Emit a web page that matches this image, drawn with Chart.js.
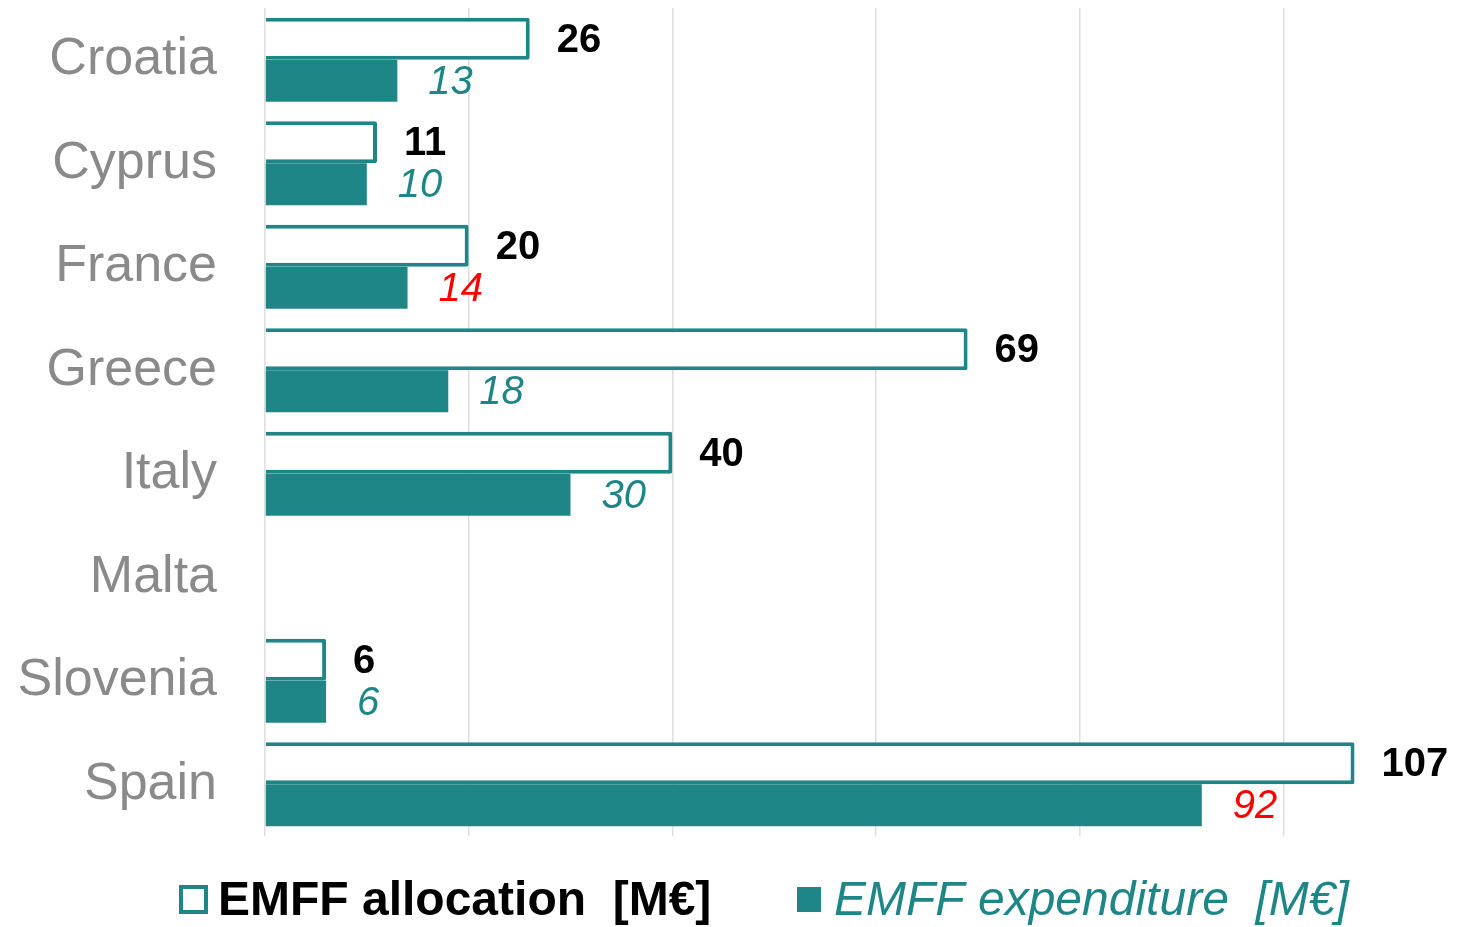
<!DOCTYPE html>
<html>
<head>
<meta charset="utf-8">
<title>EMFF allocation and expenditure</title>
<script src="https://cdn.jsdelivr.net/npm/chart.js@4"></script>
<style>
  html, body { margin: 0; padding: 0; background: #fff; }
</style>
</head>
<body>
<canvas id="bar" width="1484" height="927"></canvas>
<script>
// data (M€)
var countries = ["Croatia", "Cyprus", "France", "Greece", "Italy", "Malta", "Slovenia", "Spain"];
var allocation = [26, 11, 20, 69, 40, null, 6, 107];
var expenditure = [13, 10, 14, 18, 30, null, 6, 92];
var xMax = 115;
var xStep = 20;
var legendLabels = ["EMFF allocation  [M€]", "EMFF expenditure  [M€]"];
// expenditure labels shown in red
var flagged = ["France", "Spain"];

var teal = "#1f8687";
var font = "'Liberation Sans', Arial, sans-serif";

// Draw the value next to every bar
var valueLabels = {
  id: "valueLabels",
  afterDatasetsDraw: function (chart) {
    var ctx = chart.ctx;
    ctx.save();
    ctx.textBaseline = "middle";
    ctx.textAlign = "left";
    chart.data.datasets.forEach(function (ds, i) {
      var meta = chart.getDatasetMeta(i);
      meta.data.forEach(function (bar, j) {
        var v = ds.data[j];
        if (v === null) return;
        if (i === 0) {
          ctx.font = "bold 40px " + font;
          ctx.fillStyle = "#000";
          ctx.fillText(v, bar.x + 27, bar.y + 2);
        } else {
          ctx.font = "italic 40px " + font;
          ctx.fillStyle = flagged.indexOf(countries[j]) >= 0 ? "#ff0000" : teal;
          ctx.fillText(v, bar.x + 31, bar.y + 2);
        }
      });
    });
    ctx.restore();
  }
};

// Legend at the bottom, one font style per item
var bottomLegend = {
  id: "bottomLegend",
  afterDraw: function (chart) {
    var ctx = chart.ctx;
    ctx.save();
    ctx.textBaseline = "alphabetic";
    ctx.textAlign = "left";
    // outlined box
    ctx.strokeStyle = teal;
    ctx.lineWidth = 4;
    ctx.strokeRect(181, 887, 25, 25);
    ctx.font = "bold 48px " + font;
    ctx.fillStyle = "#000";
    ctx.fillText(legendLabels[0], 218, 915);
    // filled box
    ctx.fillStyle = teal;
    ctx.fillRect(797, 887, 24, 25);
    ctx.font = "italic 48px " + font;
    ctx.fillText(legendLabels[1], 834, 915);
    ctx.restore();
  }
};

var ctx = document.getElementById("bar").getContext("2d");
var chart = new Chart(ctx, {
  type: "bar",
  data: {
    labels: countries,
    datasets: [{
      label: legendLabels[0],
      data: allocation,
      backgroundColor: "#fff",
      borderColor: teal,
      borderWidth: 4,
      borderRadius: 2,
      barPercentage: 1.0,
      categoryPercentage: 0.81
    }, {
      label: legendLabels[1],
      data: expenditure,
      backgroundColor: teal,
      borderWidth: 0,
      barPercentage: 1.0,
      categoryPercentage: 0.81
    }]
  },
  options: {
    indexAxis: "y",
    responsive: false,
    animation: false,
    layout: {
      padding: { top: 8, right: 48, bottom: 91, left: 0 }
    },
    plugins: {
      legend: { display: false },
      tooltip: { enabled: false }
    },
    scales: {
      x: {
        min: 0,
        max: xMax,
        ticks: { display: false, stepSize: xStep },
        border: { display: false },
        grid: {
          drawTicks: false,
          lineWidth: 1.5,
          color: function (c) {
            return c.tick && c.tick.value % xStep === 0 ? "#dedede" : "rgba(0,0,0,0)";
          }
        },
        afterFit: function (scale) {
          scale.paddingLeft = 0;
          scale.paddingRight = 0;
        }
      },
      y: {
        afterFit: function (scale) {
          scale.width = 265;
          scale.paddingTop = 0;
          scale.paddingBottom = 0;
        },
        border: { display: false },
        grid: { display: false, drawTicks: false },
        ticks: {
          padding: 48,
          color: "#8a8a8a",
          font: { family: font, size: 52 }
        }
      }
    }
  },
  plugins: [valueLabels, bottomLegend]
});
</script>
</body>
</html>
